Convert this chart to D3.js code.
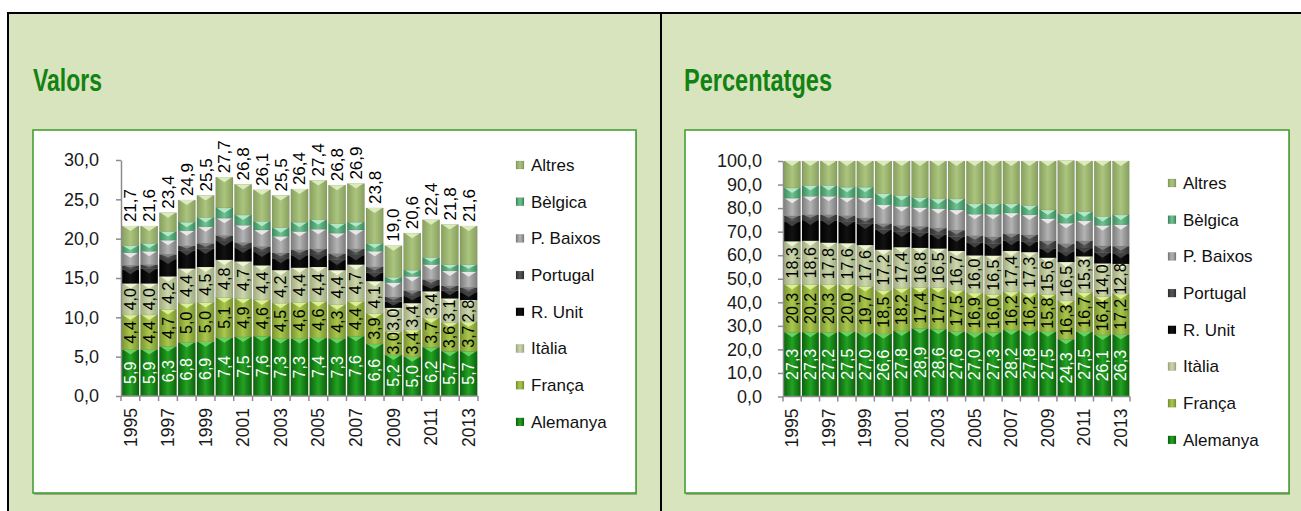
<!doctype html>
<html lang="ca">
<head>
<meta charset="utf-8">
<title>Valors i percentatges</title>
<style>
  body { margin: 0; background: #fff; }
  svg { display: block; font-family: "Liberation Sans", Arial, sans-serif; }
</style>
</head>
<body>
<svg id="svg" width="1301" height="511"></svg>
<script src="https://cdn.jsdelivr.net/npm/d3@7"></script>
<script>
// ---- data ----
var years = [1995, 1996, 1997, 1998, 1999, 2000, 2001, 2002, 2003, 2004,
             2005, 2006, 2007, 2008, 2009, 2010, 2011, 2012, 2013];
var series_names = ["Alemanya", "França", "Itàlia", "R. Unit", "Portugal", "P. Baixos", "Bèlgica", "Altres"];

// Valors
var val_alemanya = [5.9, 5.9, 6.3, 6.8, 6.9, 7.4, 7.5, 7.6, 7.3, 7.3, 7.4, 7.3, 7.6, 6.6, 5.2, 5.0, 6.2, 5.7, 5.7];
var val_franca   = [4.4, 4.4, 4.7, 5.0, 5.0, 5.1, 4.9, 4.6, 4.5, 4.6, 4.6, 4.3, 4.4, 3.9, 3.0, 3.4, 3.7, 3.6, 3.7];
var val_italia   = [4.0, 4.0, 4.2, 4.4, 4.5, 4.8, 4.7, 4.4, 4.2, 4.4, 4.4, 4.4, 4.7, 4.1, 3.0, 3.4, 3.4, 3.1, 2.8];
var val_runit    = [1.8, 1.9, 2.2, 2.3, 2.3, 2.4, 1.7, 1.7, 1.5, 1.6, 1.5, 1.3, 1.2, 1.1, 0.8, 0.9, 0.8, 1.0, 1.0];
var val_portugal = [0.5, 0.5, 0.6, 0.6, 0.7, 0.7, 0.7, 0.7, 0.7, 0.7, 0.8, 0.8, 0.8, 0.7, 0.6, 0.7, 0.7, 0.6, 0.6];
var val_pbaixos  = [1.6, 1.7, 1.8, 1.9, 2.1, 2.2, 2.2, 2.1, 2.1, 2.3, 2.5, 2.6, 2.4, 2.0, 1.8, 1.8, 1.9, 1.9, 2.0];
var val_belgica  = [0.9, 1.0, 1.1, 1.1, 1.2, 1.3, 1.3, 1.1, 1.1, 1.2, 1.2, 1.2, 1.0, 1.0, 0.7, 0.8, 0.9, 0.8, 0.9];
var val_altres   = [2.5, 2.2, 2.4, 2.8, 2.8, 3.9, 3.9, 4.0, 4.1, 4.2, 5.0, 4.9, 4.9, 4.5, 4.0, 4.7, 4.8, 5.1, 4.9];
var val_total    = [21.7, 21.6, 23.4, 24.9, 25.5, 27.7, 26.8, 26.1, 25.5, 26.4, 27.4, 26.8, 26.9, 23.8, 19.0, 20.6, 22.4, 21.8, 21.6];

// Percentatges
var pct_alemanya = [27.3, 27.3, 27.2, 27.5, 27.0, 26.6, 27.8, 28.9, 28.6, 27.6, 27.0, 27.3, 28.2, 27.8, 27.5, 24.3, 27.5, 26.1, 26.3];
var pct_franca   = [20.3, 20.2, 20.3, 20.0, 19.7, 18.5, 18.2, 17.4, 17.7, 17.5, 16.9, 16.0, 16.2, 16.2, 15.8, 16.3, 16.7, 16.4, 17.2];
var pct_italia   = [18.3, 18.6, 17.8, 17.6, 17.6, 17.2, 17.4, 16.8, 16.5, 16.7, 16.0, 16.5, 17.4, 17.3, 15.6, 16.5, 15.3, 14.0, 12.8];
var pct_runit    = [8.5, 8.8, 9.5, 9.2, 9.0, 8.5, 6.5, 6.5, 6.0, 6.0, 5.5, 5.0, 4.5, 4.5, 4.0, 4.5, 3.5, 4.5, 4.5];
var pct_portugal = [2.3, 2.3, 2.4, 2.5, 2.6, 2.6, 2.7, 2.6, 2.7, 2.8, 2.9, 3.0, 2.8, 2.8, 3.2, 3.3, 3.1, 2.9, 3.0];
var pct_pbaixos  = [7.5, 7.8, 7.8, 7.7, 8.4, 8.0, 8.1, 8.0, 8.2, 8.6, 9.1, 9.6, 8.8, 8.5, 9.4, 8.7, 8.5, 8.7, 9.1];
var pct_belgica  = [4.3, 4.6, 4.6, 4.4, 4.6, 4.7, 4.7, 4.3, 4.2, 4.7, 4.4, 4.4, 3.9, 4.0, 3.7, 4.0, 3.9, 3.8, 4.2];
var pct_altres   = [11.5, 10.4, 10.4, 11.1, 11.1, 13.9, 14.6, 15.5, 16.1, 16.1, 18.2, 18.2, 18.2, 18.9, 20.8, 22.6, 21.5, 23.6, 22.9];

var val_ticks = [0, 5, 10, 15, 20, 25, 30];
var pct_ticks = [0, 10, 20, 30, 40, 50, 60, 70, 80, 90, 100];
var year_labels = [1995, 1997, 1999, 2001, 2003, 2005, 2007, 2009, 2011, 2013];
var labelled = ["Alemanya", "França", "Itàlia"];

// ---- colours: [edge, centre, chevron] ----
var colors = [
  ["#0c620c", "#23a323", "#74dc6c"],
  ["#7a9330", "#aac84c", "#e6f7a0"],
  ["#a0ab80", "#ccd8ac", "#f6fadc"],
  ["#000000", "#121212", "#4a4a4a"],
  ["#2f2f2f", "#585858", "#8c8c8c"],
  ["#7c7c7c", "#b4b4b4", "#f2f2f2"],
  ["#3c8a5c", "#70c492", "#c0f0d0"],
  ["#88a05e", "#abc47e", "#e4f2c4"]
];

function to_rows(arrs) {
  return years.map(function(y, i) {
    var r = {year: y};
    series_names.forEach(function(k, j) { r[k] = arrs[j][i]; });
    return r;
  });
}
var val_rows = to_rows([val_alemanya, val_franca, val_italia, val_runit, val_portugal, val_pbaixos, val_belgica, val_altres]);
var pct_rows = to_rows([pct_alemanya, pct_franca, pct_italia, pct_runit, pct_portugal, pct_pbaixos, pct_belgica, pct_altres]);

var svg = d3.select("#svg");
var fmt = function(d) { return d3.format(".1f")(d).replace(".", ","); };

// gradients
var defs = svg.append("defs");
colors.forEach(function(c, i) {
  var lg = defs.append("linearGradient").attr("id", "grad" + i)
    .attr("x1", 0).attr("x2", 1).attr("y1", 0).attr("y2", 0);
  lg.append("stop").attr("offset", "0%").attr("stop-color", c[0]);
  lg.append("stop").attr("offset", "50%").attr("stop-color", c[1]);
  lg.append("stop").attr("offset", "100%").attr("stop-color", c[0]);
});

// ---- page background ----
svg.append("rect").attr("x", 8).attr("y", 13).attr("width", 1293).attr("height", 498).attr("fill", "#d8e4bd");
svg.append("line").attr("x1", 7).attr("x2", 1301).attr("y1", 13).attr("y2", 13).attr("stroke", "#000").attr("stroke-width", 2);
svg.append("line").attr("x1", 8).attr("x2", 8).attr("y1", 12).attr("y2", 511).attr("stroke", "#000").attr("stroke-width", 2);
svg.append("line").attr("x1", 661).attr("x2", 661).attr("y1", 12).attr("y2", 511).attr("stroke", "#000").attr("stroke-width", 2);

function draw_chart(opt) {
  var g = svg.append("g");

  // title
  g.append("text").attr("x", opt.title_x).attr("y", 91)
    .attr("fill", "#128212").attr("font-size", 31).attr("font-weight", "bold")
    .attr("textLength", opt.title_w).attr("lengthAdjust", "spacingAndGlyphs")
    .text(opt.title);

  // box
  g.append("rect").attr("x", opt.box[0] + 1).attr("y", opt.box[1] + 2)
    .attr("width", opt.box[2]).attr("height", opt.box[3]).attr("fill", "#9aae84");
  g.append("rect").attr("x", opt.box[0]).attr("y", opt.box[1])
    .attr("width", opt.box[2]).attr("height", opt.box[3])
    .attr("fill", "#fff").attr("stroke", "#3c9a2c").attr("stroke-width", 1.5);

  var x = d3.scaleBand().domain(years).range([opt.x0, opt.x1]).paddingInner(0.08).paddingOuter(0.04);
  var y = d3.scaleLinear().domain([0, opt.ymax]).range([opt.ybase, opt.ytop]);
  var stack = d3.stack().keys(series_names)(opt.rows);

  var layer = g.selectAll("g.layer").data(stack).join("g")
    .attr("class", "layer")
    .attr("fill", function(d, i) { return "url(#grad" + i + ")"; });

  layer.selectAll("rect").data(function(d) { return d; }).join("rect")
    .attr("x", function(d) { return x(d.data.year); })
    .attr("width", x.bandwidth())
    .attr("y", function(d) { return y(d[1]); })
    .attr("height", function(d) { return Math.max(0, y(d[0]) - y(d[1])); })
    .attr("stroke", "rgba(0,0,0,0.15)").attr("stroke-width", 0.6);

  // chevron highlights at top of each piece
  layer.selectAll("path").data(function(d, i) { return d.map(function(p) { p.si = i; return p; }); }).join("path")
    .attr("fill", function(d) { return colors[d.si][2]; })
    .attr("opacity", 0.85)
    .attr("d", function(d) {
      var x0 = x(d.data.year), w = x.bandwidth(), t = y(d[1]);
      var h = Math.min(5, (y(d[0]) - y(d[1])) * 0.6);
      return "M" + (x0 + 1) + "," + t + "L" + (x0 + w - 1) + "," + t + "L" + (x0 + w / 2) + "," + (t + h) + "Z";
    });

  // data labels inside
  stack.forEach(function(s, i) {
    if (labelled.indexOf(s.key) < 0) return;
    g.append("g").selectAll("text").data(s).join("text")
      .attr("transform", function(d) {
        return "translate(" + (x(d.data.year) + x.bandwidth() / 2) + "," + y((d[0] + d[1]) / 2) + ") rotate(-90)";
      })
      .attr("text-anchor", "middle").attr("dy", "0.35em")
      .attr("font-size", 16)
      .attr("fill", i === 0 ? "#fff" : "#000")
      .text(function(d) { return fmt(d.data[s.key]); });
  });

  // totals above
  if (opt.totals) {
    var top = stack[stack.length - 1];
    g.append("g").selectAll("text").data(top).join("text")
      .attr("transform", function(d) {
        return "translate(" + (x(d.data.year) + x.bandwidth() / 2) + "," + (y(d[1]) - 4) + ") rotate(-90)";
      })
      .attr("dy", "0.35em").attr("font-size", 17).attr("fill", "#000")
      .text(function(d, i) { return fmt(opt.totals[i]); });
  }

  // y axis
  var ya = g.append("g").attr("transform", "translate(" + opt.x0 + ",0)")
    .call(d3.axisLeft(y).tickValues(opt.ticks).tickSize(5).tickSizeOuter(0)
      .tickPadding(opt.tick_pad).tickFormat(fmt));
  ya.select(".domain").attr("stroke", "#8c8c8c").attr("stroke-width", 1.5);
  ya.selectAll(".tick line").attr("stroke", "#8c8c8c").attr("stroke-width", 1.5);
  ya.selectAll(".tick text").attr("font-size", 18).attr("fill", "#1a1a1a")
    .attr("font-family", "'Liberation Sans', Arial, sans-serif");

  // x axis: line, boundary ticks, rotated year labels
  var step = x.step();
  var first = x(years[0]) - step * x.paddingInner() / 2;
  var bounds = years.map(function(d) { return x(d) - step * x.paddingInner() / 2; }).concat([first + step * years.length]);
  g.append("line").attr("x1", opt.x0).attr("x2", opt.x1).attr("y1", opt.ybase).attr("y2", opt.ybase)
    .attr("stroke", "#8c8c8c").attr("stroke-width", 1.5);
  g.append("g").selectAll("line").data(bounds).join("line")
    .attr("x1", function(d) { return d; }).attr("x2", function(d) { return d; })
    .attr("y1", opt.ybase).attr("y2", opt.ybase + 5)
    .attr("stroke", "#8c8c8c").attr("stroke-width", 1.5);
  g.append("g").selectAll("text").data(year_labels).join("text")
    .attr("transform", function(d) {
      return "translate(" + (x(d) + x.bandwidth() / 2) + "," + (opt.ybase + 12) + ") rotate(-90)";
    })
    .attr("text-anchor", "end").attr("dy", "0.35em")
    .attr("font-size", 17.5).attr("fill", "#1a1a1a")
    .text(function(d) { return d; });

  // legend
  var leg = g.append("g").selectAll("g").data(series_names.slice().reverse()).join("g")
    .attr("transform", function(d, i) { return "translate(" + opt.leg_x + "," + (opt.leg_y + i * 36.7) + ")"; });
  leg.append("rect").attr("x", 0).attr("y", -4).attr("width", 8).attr("height", 8)
    .attr("fill", function(d) { return "url(#grad" + series_names.indexOf(d) + ")"; })
    .attr("stroke", "rgba(0,0,0,0.2)").attr("stroke-width", 0.5);
  leg.append("text").attr("x", 15).attr("dy", "0.35em")
    .attr("font-size", 17).attr("fill", "#111")
    .text(function(d) { return d; });
}

draw_chart({
  title: "Valors", title_x: 33, title_w: 69,
  box: [33, 130, 603, 363],
  rows: val_rows, totals: val_total,
  x0: 121, x1: 478, ybase: 396, ytop: 160, ymax: 30,
  ticks: val_ticks, tick_pad: 17,
  leg_x: 516, leg_y: 165
});

draw_chart({
  title: "Percentatges", title_x: 684, title_w: 148,
  box: [685, 130, 604, 363],
  rows: pct_rows, totals: null,
  x0: 783, x1: 1130, ybase: 396.5, ytop: 161, ymax: 100,
  ticks: pct_ticks, tick_pad: 16,
  leg_x: 1168, leg_y: 183
});
</script>
</body>
</html>
